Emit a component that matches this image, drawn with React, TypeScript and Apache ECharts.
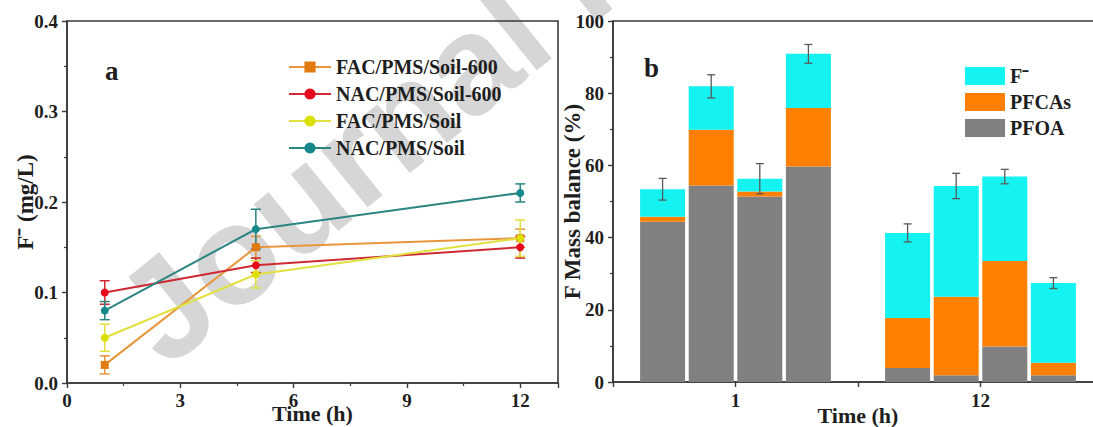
import React, { useEffect, useRef } from 'react';
import * as echarts from 'echarts';

// ---------- panel a : F- concentration ----------
const timeHours = [1, 5, 12];
const lineSeriesNames = ['FAC/PMS/Soil-600', 'NAC/PMS/Soil-600', 'FAC/PMS/Soil', 'NAC/PMS/Soil'];
const facSoil600 = [0.02, 0.15, 0.16];
const facSoil600Err = [0.01, 0.012, 0.01];
const nacSoil600 = [0.10, 0.13, 0.15];
const nacSoil600Err = [0.013, 0.008, 0.012];
const facSoil = [0.05, 0.12, 0.16];
const facSoilErr = [0.015, 0.015, 0.02];
const nacSoil = [0.08, 0.17, 0.21];
const nacSoilErr = [0.01, 0.022, 0.01];
const leftXTicks = [0, 3, 6, 9, 12];

// ---------- panel b : F mass balance ----------
const barXLabels = ['', '1', '', '12', ''];
const barComponentNames = ['PFOA', 'PFCAs', 'F⁻'];
const pfoaT1 = [44.4, 54.4, 51.4, 59.7];
const pfoaT12 = [3.9, 1.9, 9.8, 1.9];
const pfcasT1 = [1.4, 15.5, 1.4, 16.2];
const pfcasT12 = [13.8, 21.7, 23.7, 3.4];
const fIonT1 = [7.6, 12.0, 3.5, 15.0];
const fIonT12 = [23.6, 30.7, 23.4, 22.1];
const totalErrT1 = [3.0, 3.2, 4.2, 2.6];
const totalErrT12 = [2.5, 3.5, 2.0, 1.5];

const FONT = 'Liberation Serif';
const TXT = '#1e1e1e';
const AX = '#3a3a3a';
const BAR_W = 45;
const BAR_GAP = 0.08;

export default function App() {
  const ref = useRef<HTMLDivElement>(null);
  useEffect(() => {
    if (!ref.current) return;
    const chart = echarts.init(ref.current, undefined, { renderer: 'svg' });

    const lineVals = [facSoil600, nacSoil600, facSoil, nacSoil];
    const lineErrs = [facSoil600Err, nacSoil600Err, facSoilErr, nacSoilErr];
    const lineColors = ['#E8963C', '#CF2A34', '#E0E03E', '#2A8480'];
    const markColors = ['#E27A12', '#E8081E', '#DCE000', '#16888A'];
    const symbols = ['rect', 'circle', 'circle', 'circle'];

    const series: any[] = [];
    lineSeriesNames.forEach((name, s) => {
      series.push({
        name,
        type: 'line',
        xAxisIndex: 0,
        yAxisIndex: 0,
        data: timeHours.map((t, i) => [t, lineVals[s][i]]),
        symbol: symbols[s],
        symbolSize: 8,
        lineStyle: { color: lineColors[s], width: 2 },
        itemStyle: { color: markColors[s] },
        z: 4,
      });
      series.push({
        type: 'custom',
        xAxisIndex: 0,
        yAxisIndex: 0,
        data: timeHours.map((t, i) => [t, lineVals[s][i], lineErrs[s][i]]),
        encode: { x: 0, y: 1 },
        z: 3,
        renderItem: (params: any, api: any) => {
          const x = api.value(0), y = api.value(1), e = api.value(2);
          const top = api.coord([x, y + e]);
          const bot = api.coord([x, y - e]);
          const hw = 5;
          const st = { stroke: lineColors[s], lineWidth: 1.5 };
          return {
            type: 'group',
            children: [
              { type: 'line', shape: { x1: top[0], y1: top[1], x2: bot[0], y2: bot[1] }, style: st },
              { type: 'line', shape: { x1: top[0] - hw, y1: top[1], x2: top[0] + hw, y2: top[1] }, style: st },
              { type: 'line', shape: { x1: bot[0] - hw, y1: bot[1], x2: bot[0] + hw, y2: bot[1] }, style: st },
            ],
          };
        },
      });
    });

    const compT1 = [pfoaT1, pfcasT1, fIonT1];
    const compT12 = [pfoaT12, pfcasT12, fIonT12];
    const compColors = ['#808080', '#FF7F00', '#14F2F2'];
    for (let k = 0; k < 4; k++) {
      barComponentNames.forEach((name, c) => {
        series.push({
          name,
          type: 'bar',
          xAxisIndex: 1,
          yAxisIndex: 1,
          stack: 'cond' + k,
          barWidth: BAR_W,
          barGap: BAR_GAP * 100 + '%',
          itemStyle: { color: compColors[c] },
          data: barXLabels.map((_, ci) => (ci === 1 ? compT1[c][k] : ci === 3 ? compT12[c][k] : null)),
          z: 2,
        });
      });
    }
    const errData: any[] = [];
    for (let k = 0; k < 4; k++) {
      errData.push([1, pfoaT1[k] + pfcasT1[k] + fIonT1[k], totalErrT1[k], k]);
      errData.push([3, pfoaT12[k] + pfcasT12[k] + fIonT12[k], totalErrT12[k], k]);
    }
    series.push({
      type: 'custom',
      xAxisIndex: 1,
      yAxisIndex: 1,
      data: errData,
      encode: { x: 0, y: 1 },
      z: 5,
      renderItem: (params: any, api: any) => {
        const ci = api.value(0), tot = api.value(1), e = api.value(2), k = api.value(3);
        const off = (k - 1.5) * BAR_W * (1 + BAR_GAP);
        const top = api.coord([ci, tot + e]);
        const bot = api.coord([ci, tot - e]);
        const x = top[0] + off;
        const hw = 4;
        const st = { stroke: '#5a5a5a', lineWidth: 1.3 };
        return {
          type: 'group',
          children: [
            { type: 'line', shape: { x1: x, y1: top[1], x2: x, y2: bot[1] }, style: st },
            { type: 'line', shape: { x1: x - hw, y1: top[1], x2: x + hw, y2: top[1] }, style: st },
            { type: 'line', shape: { x1: x - hw, y1: bot[1], x2: x + hw, y2: bot[1] }, style: st },
          ],
        };
      },
    });

    const labelStyle = { fontFamily: FONT, fontWeight: 'bold', fontSize: 19, color: TXT };
    const xNameStyle = { fontFamily: FONT, fontWeight: 'bold', fontSize: 22, color: TXT };
    const yNameStyle = { fontFamily: FONT, fontWeight: 'bold', fontSize: 23, color: TXT };
    const axLine = { show: true, onZero: false, lineStyle: { color: AX, width: 1.6 } };
    const tick = { show: true, length: 5, lineStyle: { color: AX, width: 1.4 } };
    const minor = { show: true, splitNumber: 2, length: 3, lineStyle: { color: AX, width: 1.2 } };

    const option: any = {
      animation: false,
      textStyle: { fontFamily: FONT },
      grid: [
        { left: 67, top: 21, width: 491, height: 362, show: true, borderColor: AX, borderWidth: 1.6, outerBoundsMode: 'none', containLabel: false },
        { left: 613, top: 21, width: 490, height: 361, show: true, borderColor: AX, borderWidth: 1.6, outerBoundsMode: 'none', containLabel: false },
      ],
      xAxis: [
        {
          gridIndex: 0, type: 'value', min: 0, max: 13, interval: 3,
          axisLine: axLine, axisTick: tick, minorTick: minor, splitLine: { show: false },
          axisLabel: { ...labelStyle, margin: 8, formatter: (v: number) => (leftXTicks.includes(v) ? String(v) : '') },
          name: 'Time (h)', nameLocation: 'middle', nameGap: 19, nameMoveOverlap: false, nameTextStyle: xNameStyle,
        },
        {
          gridIndex: 1, type: 'category', data: barXLabels, boundaryGap: false,
          axisLine: axLine, axisTick: { ...tick, interval: 0 }, splitLine: { show: false },
          axisLabel: { ...labelStyle, margin: 9, interval: 0 },
          name: 'Time (h)', nameLocation: 'middle', nameGap: 22, nameMoveOverlap: false, nameTextStyle: xNameStyle,
        },
      ],
      yAxis: [
        {
          gridIndex: 0, type: 'value', min: 0, max: 0.4, interval: 0.1,
          axisLine: axLine, axisTick: tick, minorTick: minor, splitLine: { show: false },
          axisLabel: { ...labelStyle, margin: 9, formatter: (v: number) => v.toFixed(1) },
          name: 'F⁻ (mg/L)', nameLocation: 'middle', nameGap: 30, nameMoveOverlap: false, nameTextStyle: yNameStyle,
        },
        {
          gridIndex: 1, type: 'value', min: 0, max: 100, interval: 20,
          axisLine: axLine, axisTick: tick, minorTick: minor, splitLine: { show: false },
          axisLabel: { ...labelStyle, margin: 9 },
          name: 'F Mass balance (%)', nameLocation: 'middle', nameGap: 29, nameMoveOverlap: false, nameTextStyle: yNameStyle,
        },
      ],
      legend: [
        {
          data: lineSeriesNames, orient: 'vertical', left: 283, top: 52,
          itemWidth: 42, itemHeight: 14, itemGap: 7,
          textStyle: { fontFamily: FONT, fontWeight: 'bold', fontSize: 20, color: TXT },
        },
        {
          data: ['F⁻', 'PFCAs', 'PFOA'], orient: 'vertical', left: 960, top: 61,
          itemWidth: 40, itemHeight: 18, itemGap: 6, icon: 'rect',
          textStyle: { fontFamily: FONT, fontWeight: 'bold', fontSize: 20, color: TXT },
        },
      ],
      graphic: [
        {
          type: 'text', x: 92, y: 278, rotation: (39 * Math.PI) / 180, z: -1, silent: true,
          style: { text: 'Journal Pre-proof', fill: '#d6d6d6', font: 'bold 140px "Liberation Sans"', verticalAlign: 'top' },
        },
        { type: 'text', left: 105, top: 57, style: { text: 'a', fill: TXT, font: `bold 27px "${FONT}"` } },
        { type: 'text', left: 644, top: 54, style: { text: 'b', fill: TXT, font: `bold 27px "${FONT}"` } },
      ],
      series,
    };
    chart.setOption(option);
    return () => chart.dispose();
  }, []);
  return <div ref={ref} style={{ position: 'absolute', left: 0, top: 0, width: 1093, height: 427 }} />;
}
